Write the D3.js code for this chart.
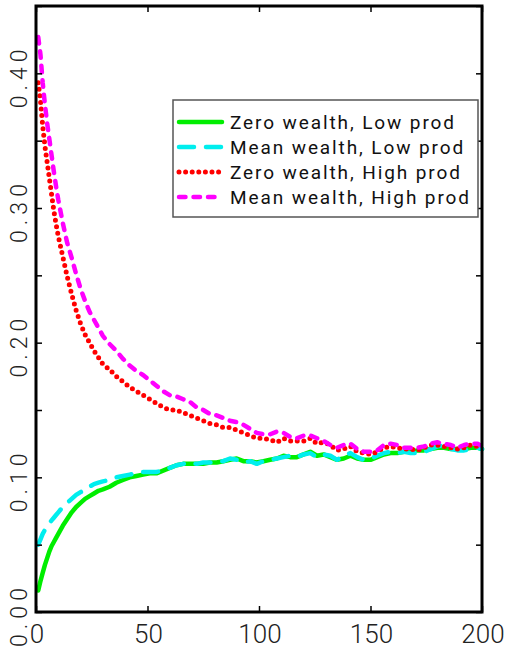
<!DOCTYPE html>
<html>
<head>
<meta charset="utf-8">
<script src="https://cdn.jsdelivr.net/npm/d3@7"></script>
<style>
  html, body { margin: 0; padding: 0; background: #fff; }
  svg { display: block; }
  .tick-label { font-family: "Roboto", "Liberation Sans", sans-serif; font-weight: 300; fill: #222; }
  .legend-text { font-family: "Roboto", "Liberation Sans", sans-serif; font-weight: 400; fill: #111; }
</style>
</head>
<body>
<svg id="chart" width="507" height="654"></svg>
<script>
// Period index shared by all four series
const periods = [1,2,3,4,5,6,7,8,9,10,12,14,16,18,20,22,24,26,28,30,
  33,36,39,42,45,48,51,54,57,60,63,66,69,72,75,78,81,84,87,90,
  93,96,99,102,105,108,111,114,117,120,123,126,129,132,135,138,141,144,147,150,
  153,156,159,162,165,168,171,174,177,180,183,186,189,192,195,198,200];

const zeroWealthLowProd = [0.016,0.023,0.029,0.035,0.040,0.045,0.049,0.052,0.055,0.058,
  0.064,0.069,0.074,0.078,0.081,0.084,0.086,0.088,0.090,0.091,
  0.093,0.096,0.098,0.100,0.101,0.102,0.103,0.103,0.105,0.107,
  0.109,0.110,0.110,0.110,0.110,0.111,0.111,0.112,0.113,0.114,
  0.112,0.112,0.111,0.112,0.113,0.114,0.116,0.115,0.115,0.117,
  0.119,0.116,0.117,0.115,0.113,0.114,0.116,0.114,0.113,0.113,
  0.115,0.117,0.118,0.118,0.119,0.119,0.120,0.120,0.121,0.122,
  0.122,0.121,0.121,0.121,0.122,0.122,0.121];

const meanWealthLowProd = [0.050,0.054,0.058,0.061,0.064,0.066,0.068,0.070,0.072,0.074,
  0.078,0.081,0.084,0.087,0.089,0.091,0.093,0.095,0.096,0.097,
  0.098,0.100,0.101,0.102,0.103,0.104,0.104,0.104,0.105,0.107,
  0.109,0.110,0.111,0.110,0.111,0.111,0.112,0.112,0.114,0.113,
  0.111,0.112,0.110,0.112,0.113,0.114,0.115,0.116,0.115,0.117,
  0.118,0.115,0.117,0.116,0.113,0.116,0.118,0.115,0.113,0.114,
  0.116,0.118,0.119,0.118,0.119,0.118,0.118,0.119,0.121,0.123,
  0.124,0.121,0.120,0.120,0.121,0.122,0.121];

const zeroWealthHighProd = [0.393,0.380,0.361,0.346,0.334,0.322,0.310,0.298,0.288,0.279,
  0.264,0.249,0.236,0.224,0.214,0.206,0.200,0.194,0.189,0.184,
  0.180,0.175,0.171,0.167,0.164,0.161,0.158,0.155,0.152,0.150,
  0.150,0.148,0.146,0.144,0.142,0.140,0.139,0.137,0.137,0.135,
  0.133,0.131,0.129,0.129,0.128,0.126,0.129,0.127,0.127,0.127,
  0.129,0.125,0.126,0.124,0.120,0.121,0.123,0.119,0.118,0.117,
  0.119,0.122,0.123,0.122,0.121,0.121,0.120,0.122,0.124,0.124,
  0.123,0.122,0.121,0.122,0.124,0.123,0.122];

const meanWealthHighProd = [0.427,0.414,0.393,0.377,0.363,0.351,0.339,0.327,0.316,0.306,
  0.289,0.274,0.263,0.251,0.240,0.231,0.223,0.217,0.211,0.205,
  0.199,0.194,0.188,0.183,0.179,0.176,0.172,0.168,0.164,0.161,
  0.160,0.158,0.156,0.152,0.150,0.147,0.146,0.144,0.142,0.141,
  0.139,0.136,0.133,0.132,0.132,0.134,0.133,0.130,0.129,0.131,
  0.131,0.129,0.127,0.124,0.122,0.124,0.125,0.121,0.119,0.119,
  0.120,0.124,0.125,0.124,0.122,0.122,0.122,0.123,0.125,0.126,
  0.125,0.124,0.122,0.124,0.125,0.125,0.123];

const seriesNames = ["Zero wealth, Low prod", "Mean wealth, Low prod",
                     "Zero wealth, High prod", "Mean wealth, High prod"];
const seriesValues = [zeroWealthLowProd, meanWealthLowProd, zeroWealthHighProd, meanWealthHighProd];

const xTickValues = [0, 50, 100, 150, 200];
const yTickValues = [0, 0.05, 0.10, 0.15, 0.20, 0.25, 0.30, 0.35, 0.40, 0.45];
const yTickLabels = ["0.00", "0.10", "0.20", "0.30", "0.40"];

// Line styling per series
const styles = [
  { color: "#00ee00", width: 4.5, dash: null },
  { color: "#00eeee", width: 4.5, dash: "15,12" },
  { color: "#ff0000", width: 5,   dash: "0,6.6" },
  { color: "#ff00ff", width: 4.5, dash: "6.5,8" }
];

const W = 507, H = 654;
const margin = { left: 36, right: 25, top: 6, bottom: 42 };
const iw = W - margin.left - margin.right;
const ih = H - margin.top - margin.bottom;

const svg = d3.select("#chart");
const g = svg.append("g").attr("transform", `translate(${margin.left},${margin.top})`);

const x = d3.scaleLinear().domain([0, 200]).range([0, iw]);
const y = d3.scaleLinear().domain([0, 0.45]).range([ih, 0]);

// Series lines
const line = d3.line().x((d, i) => x(periods[i])).y(d => y(d));
seriesValues.forEach((vals, k) => {
  const s = styles[k];
  g.append("path")
    .datum(vals)
    .attr("d", line)
    .attr("fill", "none")
    .attr("stroke", s.color)
    .attr("stroke-width", s.width)
    .attr("stroke-linecap", "round")
    .attr("stroke-linejoin", "round")
    .attr("stroke-dasharray", s.dash);
});

// Inward ticks on all four sides
function styleAxis(sel) {
  sel.select(".domain").remove();
  sel.selectAll(".tick line").attr("stroke", "#000").attr("stroke-width", 1.5);
  sel.selectAll(".tick text").remove();
}
g.append("g").call(d3.axisLeft(y).tickValues(yTickValues).tickSize(-6).tickFormat("")).call(styleAxis);
g.append("g").attr("transform", `translate(${iw},0)`)
  .call(d3.axisRight(y).tickValues(yTickValues).tickSize(-6).tickFormat("")).call(styleAxis);
g.append("g").attr("transform", `translate(0,${ih})`)
  .call(d3.axisBottom(x).tickValues(xTickValues).tickSize(-6).tickFormat("")).call(styleAxis);
g.append("g")
  .call(d3.axisTop(x).tickValues(xTickValues).tickSize(-6).tickFormat("")).call(styleAxis);

// Frame
g.append("rect")
  .attr("x", 0).attr("y", 0).attr("width", iw).attr("height", ih)
  .attr("fill", "none").attr("stroke", "#000").attr("stroke-width", 3);

// X tick labels
g.selectAll(".xlab").data(xTickValues).enter().append("text")
  .attr("class", "tick-label")
  .attr("x", d => x(d) + 1)
  .attr("y", ih + 31)
  .attr("text-anchor", "middle")
  .style("font-size", "26px")
  .text(d => d);

// Y tick labels, rotated
g.selectAll(".ylab").data(yTickLabels).enter().append("text")
  .attr("class", "tick-label")
  .attr("transform", d => `translate(${-9},${y(+d) + 3}) rotate(-90)`)
  .attr("text-anchor", "middle")
  .style("font-size", "23px")
  .style("letter-spacing", "5px")
  .text(d => d);

// Legend
const lg = svg.append("g").attr("transform", "translate(173,100)");
lg.append("rect").attr("width", 305).attr("height", 117)
  .attr("fill", "#fff").attr("stroke", "#555").attr("stroke-width", 1.5);
seriesNames.forEach((name, k) => {
  const s = styles[k];
  const ry = 22 + k * 25;
  lg.append("line")
    .attr("x1", 6).attr("x2", 49).attr("y1", ry).attr("y2", ry)
    .attr("stroke", s.color).attr("stroke-width", s.width)
    .attr("stroke-linecap", "round")
    .attr("stroke-dasharray", s.dash);
  lg.append("text")
    .attr("class", "legend-text")
    .attr("x", 57).attr("y", ry + 7)
    .style("font-size", "19px")
    .style("letter-spacing", "1.9px")
    .text(name);
});
</script>
</body>
</html>
